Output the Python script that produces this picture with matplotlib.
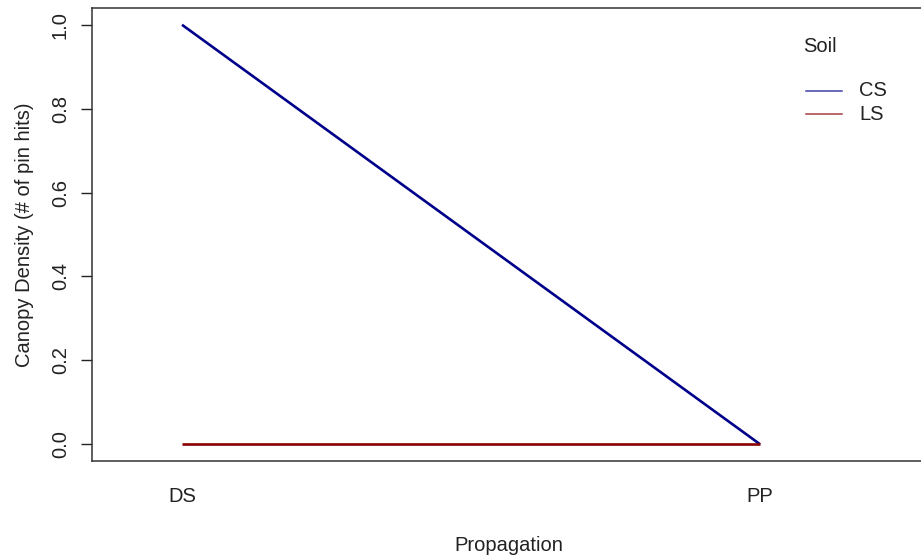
import matplotlib
matplotlib.use("Agg")
import matplotlib.pyplot as plt
from matplotlib.lines import Line2D

plt.rcParams['font.family'] = ['Liberation Sans', 'DejaVu Sans']

# Interaction of propagation method and soil type on canopy density
propagation = ["DS", "PP"]
soil_levels = ["CS", "LS"]
cs_density = [1.0, 0.0]
ls_density = [0.0, 0.0]
series_colors = {"CS": "#00008B", "LS": "#8B0000"}
y_ticks = [0.0, 0.2, 0.4, 0.6, 0.8, 1.0]

W, H = 921, 558
fig = plt.figure(figsize=(W / 100, H / 100), dpi=100)
ax = fig.add_axes([92 / W, (H - 461) / H, (925 - 92) / W, (461 - 8) / H])

xpos = list(range(1, len(propagation) + 1))
for level, vals in zip(soil_levels, [cs_density, ls_density]):
    ax.plot(xpos, vals, color=series_colors[level], lw=1.9, solid_capstyle='butt')

ax.set_xlim(1 - 90 / 578, 1 + (925 - 182) / 578)
ax.set_ylim(-0.04, 1.04)

ax.set_xticks(xpos)
ax.set_xticklabels(propagation)
ax.set_yticks(y_ticks)
ax.set_yticklabels([f"{v:.1f}" for v in y_ticks], rotation=90, va='center')

ax.tick_params(axis='x', length=0, pad=19, labelsize=14.5, colors='#222222')
ax.tick_params(axis='y', length=8, width=1, pad=8, labelsize=14.5,
               color='#222222', labelcolor='#222222')

for s in ax.spines.values():
    s.set_color('#333333')
    s.set_linewidth(1.1)

ax.set_xlabel("Propagation", fontsize=14.5, color='#222222', labelpad=21)
ax.set_ylabel("Canopy Density (# of pin hits)", fontsize=14.5, color='#222222', labelpad=12)

# Legend block in pixel positions of the figure
def fx(px):
    return px / W

def fy(py):
    return 1 - py / H

fig.text(fx(803), fy(46), "Soil", fontsize=14.5, color='#222222', va='center', ha='left')
for i, level in enumerate(soil_levels):
    yy = fy(91 + i * 23)
    fig.add_artist(Line2D([fx(806), fx(842)], [yy, yy], color=series_colors[level],
                          lw=1.1, transform=fig.transFigure, alpha=0.75))
    fig.text(fx(859), yy, level, fontsize=14.5, color='#222222', va='center', ha='left')

fig.savefig("out.png", dpi=100)
